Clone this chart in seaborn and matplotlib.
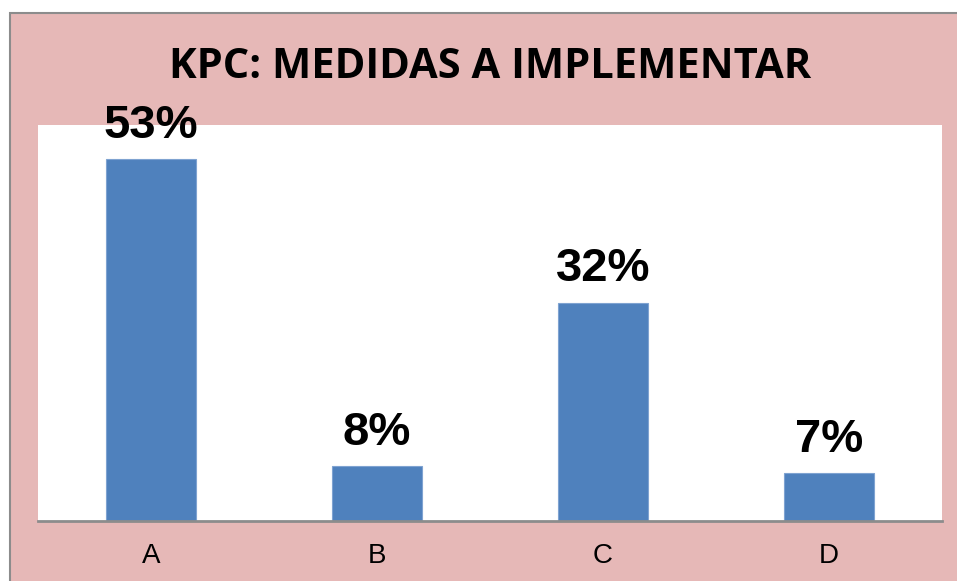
import pandas as pd
import seaborn as sns
import matplotlib.pyplot as plt
from matplotlib.patches import Rectangle

categories = ["A", "B", "C", "D"]
values = [53, 8, 32, 7]
title = "KPC: MEDIDAS A IMPLEMENTAR"

df = pd.DataFrame({"medida": categories, "pct": values})

sns.set_style("white")
plt.rcParams["font.family"] = ["Liberation Sans", "DejaVu Sans"]
plt.rcParams["text.color"] = "black"
plt.rcParams["xtick.color"] = "black"

W, H = 957, 581
fig = plt.figure(figsize=(W / 100, H / 100), dpi=100)
fig.patch.set_facecolor("white")

# pink chart area with grey frame (left/top visible)
fig.patches.append(Rectangle((10 / W, -0.1), 1.2, (H - 13) / H + 0.1,
                             transform=fig.transFigure, facecolor="#E6B8B7",
                             edgecolor="#8C8C8C", linewidth=1.5, zorder=-10))

ax = fig.add_axes([38 / W, (H - 521) / H, (942 - 38) / W, (521 - 125) / H])
ax.set_zorder(1)
ax.set_facecolor("white")

sns.barplot(data=df, x="medida", y="pct", color="#4F81BD", width=0.4,
            saturation=1, edgecolor="#7FA3D1", linewidth=0.8, ax=ax)

ax.bar_label(ax.containers[0], labels=[f"{v}%" for v in values],
             padding=8, fontsize=34, fontweight="bold", color="black")

ax.set_ylim(0, 58)
ax.set_xlim(-0.5, 3.5)
ax.set_xlabel("")
ax.set_ylabel("")
ax.set_yticks([])
ax.tick_params(axis="x", length=0, labelsize=20, pad=16, labelcolor="black")
for s in ["left", "right", "top"]:
    ax.spines[s].set_visible(False)
ax.spines["bottom"].set_color("#8C8C8C")
ax.spines["bottom"].set_linewidth(2)

fig.text(490 / W, (H - 78) / H, title, ha="center", va="baseline", color="black",
         fontsize=30, fontweight="bold", family=["Open Sans", "DejaVu Sans"])

fig.savefig("out.png", dpi=100)
